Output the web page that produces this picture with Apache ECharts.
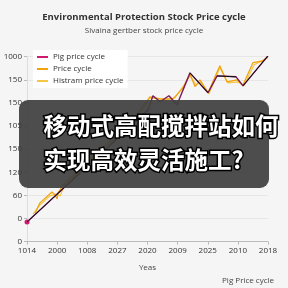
<!DOCTYPE html>
<html><head><meta charset="utf-8">
<script src="https://cdn.jsdelivr.net/npm/echarts@6/dist/echarts.min.js"></script>
<style>html,body{margin:0;padding:0;background:#f5f5f5}#c{width:288px;height:288px}</style>
</head><body><div id="c"></div>
<script>
// Tick labels (axes are index-scaled; labels are as printed on the chart)
const xLabels = ['1014','2000','1008','2027','2020','2009','2025','2010','2018'];
const yLabels = ['0','0','60','120','150','105','150','150','1000'];
// Series (x, y in axis-index units)
const pigPrice = [[0,0.85],[4.02,5.70],[4.18,6.31],[4.42,6.05],[4.71,6.31],[4.98,5.92],[5.41,7.30],[6.01,6.44],[6.31,7.17],[6.94,7.13],[7.17,6.74],[8.0,8.04]];
const trendLine = [[0,0.85],[4.02,5.70],null,[5.41,7.30],[6.01,6.44],null,[6.31,7.17],[6.94,7.13],null,[7.17,6.74],[8.0,8.04]];
const priceCycle = [[0.27,1.24],[0.43,1.68],[0.83,2.15],[0.93,2.02],[1.0,1.85],[1.03,2.11],[1.2,2.45],[2.4,3.95],[3.4,5.05],[4.08,6.26],[4.42,6.18],[4.85,6.18],[5.18,6.65],[5.41,7.26],[5.58,6.70],[5.74,7.0],[6.01,6.44],[6.40,7.61],[6.64,6.91],[6.97,7.0],[7.17,6.78],[7.5,7.74],[7.83,7.82],[8.0,8.0]];
const histramCycle = [[0.2,1.19],[0.43,1.59],[0.76,1.98],[0.96,2.06],[1.1,1.98],[1.23,2.41],[2.5,4.0],[3.5,5.1],[4.08,6.22],[4.58,6.13],[4.91,6.22],[5.24,6.83],[5.41,7.17],[5.61,6.78],[5.78,6.91],[6.04,6.39],[6.40,7.52],[6.67,6.87],[7.0,6.91],[7.2,6.74],[7.54,7.65],[8.0,7.96]];
const overlayLines = ['移动式高配搅拌站如何','实现高效灵活施工?'];

const ff = '"Open Sans", "Noto Sans", sans-serif';
const chart = echarts.init(document.getElementById('c'), null, {renderer:'canvas'});
chart.setOption({
  backgroundColor:'#f5f5f5',
  animation:false,
  title:[
    {text:'Environmental Protection Stock Price cycle', left:'center', top:7,
     textStyle:{fontSize:9.5, fontWeight:'bold', color:'#333', fontFamily:ff},
     subtext:'Sivaina gertber stock price cycle', itemGap:5,
     subtextStyle:{fontSize:8, color:'#444', fontFamily:ff}},
    {text:'Pig Price cycle', right:9, top:272, textStyle:{fontSize:8, fontWeight:'normal', color:'#444', fontFamily:ff}}
  ],
  legend:{
    orient:'vertical', left:33, top:50, itemWidth:11, itemHeight:2, itemGap:4,
    backgroundColor:'#ffffff', padding:[3,4,3,4],
    textStyle:{fontSize:8, color:'#333', fontFamily:ff},
    icon:'rect',
    data:['Pig price cycle','Price cycle','Histram price cycle']
  },
  grid:{left:27, right:20, top:56.7, bottom:46.3, containLabel:false, outerBoundsMode:'none'},
  xAxis:{
    type:'value', min:0, max:8, interval:1,
    name:'Yeas', nameLocation:'middle', nameGap:22,
    nameTextStyle:{fontSize:8, color:'#444', fontFamily:ff},
    axisLine:{show:true, lineStyle:{color:'#bbb'}},
    axisTick:{show:true, length:3, lineStyle:{color:'#bbb'}},
    splitLine:{show:false},
    axisLabel:{fontSize:8, color:'#333', fontFamily:ff, margin:5, formatter:(v)=>xLabels[Math.round(v)]}
  },
  yAxis:{
    type:'value', min:0, max:8, interval:1,
    name:'Cost(ly)', nameLocation:'middle', nameGap:21, nameRotate:90,
    nameTextStyle:{fontSize:7, color:'#555', fontFamily:ff},
    axisLine:{show:true, lineStyle:{color:'#ddd'}},
    axisTick:{show:true, length:3, lineStyle:{color:'#bbb'}},
    splitLine:{show:true, lineStyle:{color:'#e6e6e6'}},
    axisLabel:{fontSize:8, color:'#333', fontFamily:ff, margin:5, formatter:(v)=>yLabels[Math.round(v)]}
  },
  series:[
    {name:'Histram price cycle', type:'line', data:histramCycle, symbol:'none', z:2,
     lineStyle:{color:'#f3c745', width:1.2}, itemStyle:{color:'#f3c745'}},
    {name:'Price cycle', type:'line', data:priceCycle, symbol:'none', z:3,
     lineStyle:{color:'#f0a30a', width:1.2}, itemStyle:{color:'#f0a30a'}},
    {name:'Pig price cycle', type:'line', data:pigPrice, z:4,
     symbol:(v,p)=> (p.dataIndex===0||p.dataIndex===pigPrice.length-1)?'circle':'none', symbolSize:5,
     lineStyle:{color:'#7a1c5c', width:1.4}, itemStyle:{color:'#d11a6e'}},
    {name:'trend', type:'line', data:trendLine, symbol:'none', z:5, connectNulls:false,
     lineStyle:{color:'#111', width:1}, itemStyle:{color:'#111'}}
  ],
  graphic:[
    {type:'rect', left:19, top:100, shape:{width:250, height:88, r:9}, z:100,
     style:{fill:'rgba(64,64,64,0.93)'}},
    {type:'text', left:42, top:113, z:101,
     style:{text:overlayLines[0], font:'bold 23.5px "Noto Sans CJK SC"', fill:'#fff', stroke:'#000', lineWidth:3}},
    {type:'text', left:42, top:147, z:101,
     style:{text:overlayLines[1], font:'bold 23.5px "Noto Sans CJK SC"', fill:'#fff', stroke:'#000', lineWidth:3}}
  ]
});
</script></body></html>
